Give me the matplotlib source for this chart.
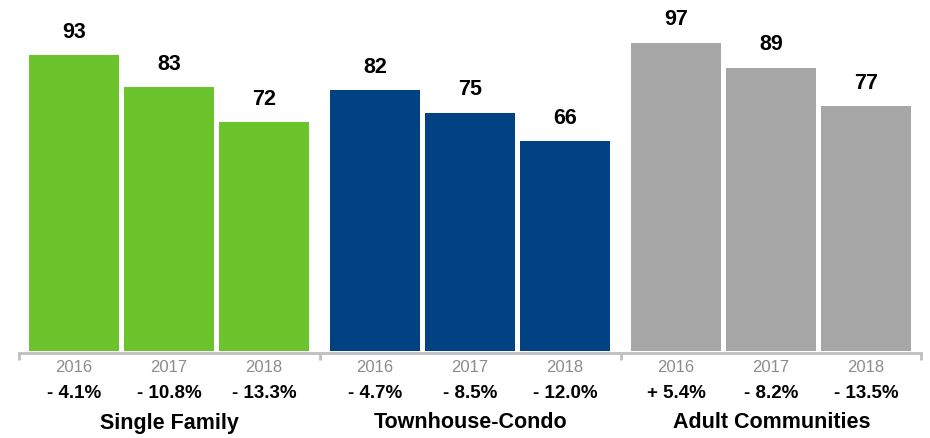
import numpy as np
import matplotlib
matplotlib.use("Agg")
from matplotlib import pyplot as plt

plt.rcParams['font.family'] = ['Liberation Sans', 'DejaVu Sans']

# datos del grafico
groups = ['Single Family', 'Townhouse-Condo', 'Adult Communities']
years = ['2016', '2017', '2018']
single_family = [93, 83, 72]
townhouse_condo = [82, 75, 66]
adult_communities = [97, 89, 77]
pct_single = ['- 4.1%', '- 10.8%', '- 13.3%']
pct_town = ['- 4.7%', '- 8.5%', '- 12.0%']
pct_adult = ['+ 5.4%', '- 8.2%', '- 13.5%']
colors = ['#6cc42c', '#004282', '#a6a6a6']

values = [single_family, townhouse_condo, adult_communities]
pcts = [pct_single, pct_town, pct_adult]

W, H = 930, 438
base = 351
fig = plt.figure(figsize=(W / 100, H / 100), dpi=100)
# ejes en "pixeles": x de 19 a 921, base en y=351
ax = fig.add_axes([19 / W, (H - base) / H, (921 - 19) / W, base / H])
ax.set_xlim(0, 902)
ax.set_ylim(0, base / 3.18)

group_w = 301
bar_step = 95
bar_w = 90
margin = 10

trans = ax.get_xaxis_transform()
for g in range(len(groups)):
    xs = margin + g * group_w + np.arange(3) * bar_step + bar_w / 2
    ax.bar(xs, values[g], width=bar_w, color=colors[g], zorder=2)
    for j, x in enumerate(xs):
        ax.annotate(str(values[g][j]), (x, values[g][j]), xytext=(0, 23),
                    textcoords='offset pixels', ha='center', va='center',
                    fontsize=15.5, fontweight='bold', color='black')
        ax.text(x, -(367 - base) / base, years[j], transform=trans, ha='center',
                va='center', fontsize=12, color='#8c8c8c')
        ax.text(x, -(394 - base) / base, pcts[g][j], transform=trans, ha='center',
                va='center', fontsize=13.5, fontweight='bold', color='black')
    ax.text(g * group_w + group_w / 2, -(423 - base) / base, groups[g],
            transform=trans, ha='center', va='center', fontsize=15.5,
            fontweight='bold', color='black')

for s in ['top', 'right', 'left']:
    ax.spines[s].set_visible(False)
ax.spines['bottom'].set_color('#bfbfbf')
ax.spines['bottom'].set_linewidth(2)
ax.spines['bottom'].set_position(('outward', 1.2))
ax.set_yticks([])
ax.set_xticks([0, 301, 602, 902])
ax.set_xticklabels([])
ax.tick_params(axis='x', length=5, width=2, color='#bfbfbf')

fig.savefig('out.png', dpi=100)
